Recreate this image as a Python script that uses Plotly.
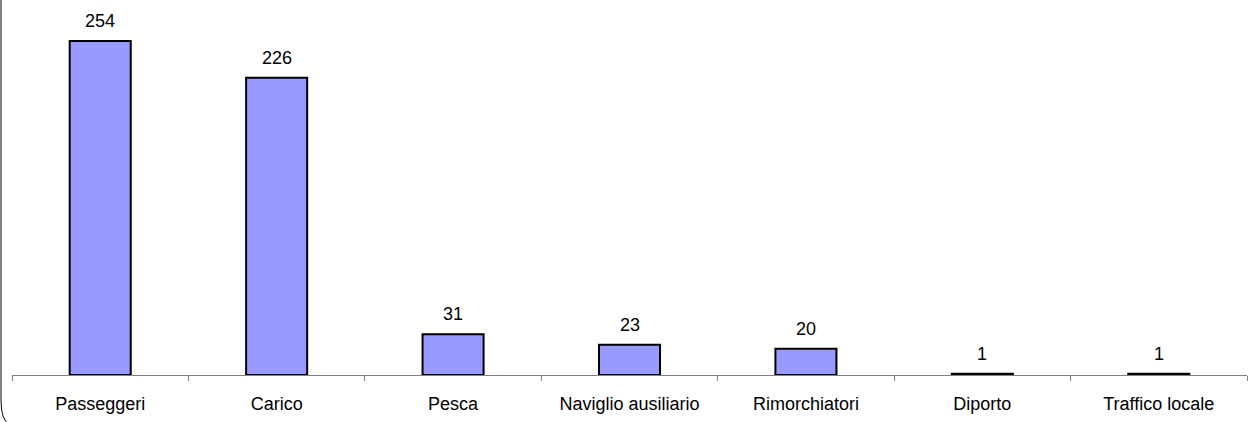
import plotly.graph_objects as go

categories = ["Passeggeri", "Carico", "Pesca", "Naviglio ausiliario",
              "Rimorchiatori", "Diporto", "Traffico locale"]
values = [254, 226, 31, 23, 20, 1, 1]

W, H = 1248, 422
ml, mr, mt, mb = 12, 1, 10, 47
plot_w = W - ml - mr
plot_h = H - mt - mb
y_max = 277.5
FONT = "Liberation Sans, Arial"

fig = go.Figure(go.Bar(
    x=categories,
    y=values,
    marker=dict(color="#9999FF", line=dict(color="#000000", width=2)),
    hoverinfo="skip",
))

for c, v in zip(categories, values):
    fig.add_annotation(
        x=c, y=v, text=str(v), showarrow=False,
        yanchor="bottom", yshift=8,
        font=dict(family=FONT, size=18, color="#000000"),
    )

# frame edge on the left with a rounded lower corner
def px_x(p):
    return (p - ml) / plot_w

def px_y(p):
    return (H - mb - p) / plot_h

path = (f"M {px_x(1)},{px_y(-5)} L {px_x(1)},{px_y(400)} "
        f"Q {px_x(1)},{px_y(420)} {px_x(9)},{px_y(424)}")
fig.add_shape(type="path", path=path, xref="paper", yref="paper",
              line=dict(color="#000000", width=1))

fig.update_layout(
    width=W, height=H,
    margin=dict(l=ml, r=mr, t=mt, b=mb),
    paper_bgcolor="#ffffff",
    plot_bgcolor="#ffffff",
    bargap=0.654,
    showlegend=False,
    font=dict(family=FONT, size=18, color="#000000"),
    xaxis=dict(
        showline=True, linecolor="#808080", linewidth=1,
        ticks="outside", tickson="boundaries", ticklen=5,
        tickcolor="#808080", tickwidth=1,
        showgrid=False, zeroline=False,
        tickfont=dict(family=FONT, size=18, color="#000000"),
        ticklabelstandoff=12,
    ),
    yaxis=dict(
        range=[0, y_max], visible=False, showgrid=False, zeroline=False,
    ),
)

fig.write_html("out.html")
